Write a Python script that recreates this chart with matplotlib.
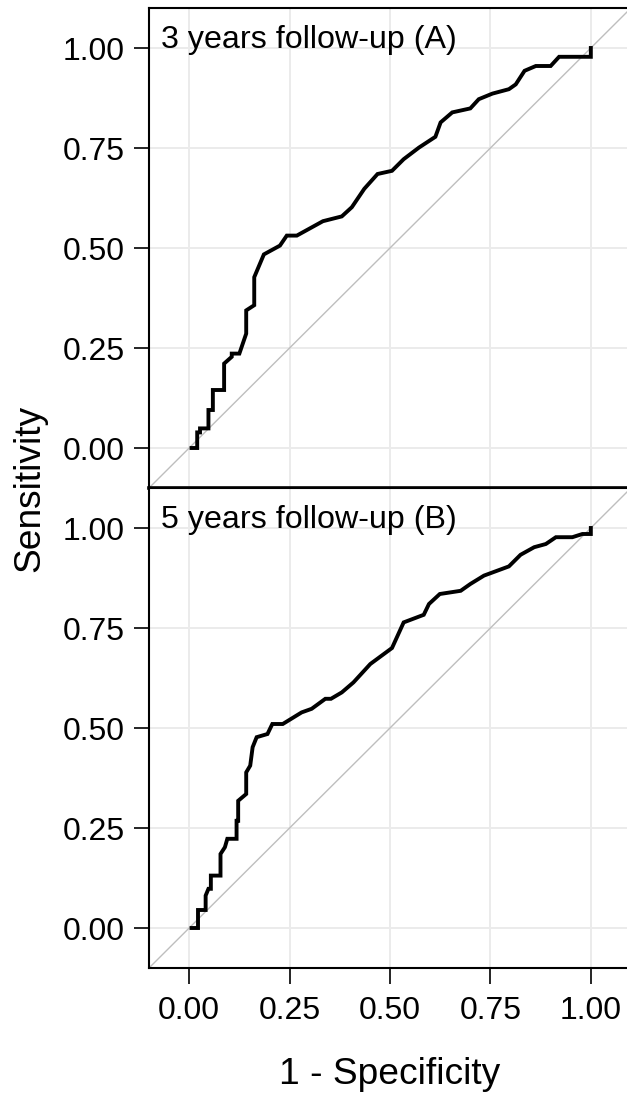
import matplotlib
matplotlib.use("Agg")
import matplotlib.pyplot as plt
import numpy as np

plt.rcParams['font.family'] = ['Liberation Sans', 'DejaVu Sans']

# ROC curve, 3 years follow-up (A)
fpr_3y = [0.006, 0.020, 0.020, 0.027, 0.027, 0.048, 0.048, 0.059, 0.059, 0.087,
          0.087, 0.106, 0.106, 0.125, 0.142, 0.142, 0.162, 0.162, 0.186, 0.226,
          0.243, 0.268, 0.333, 0.380, 0.405, 0.436, 0.469, 0.505, 0.534, 0.572,
          0.613, 0.626, 0.655, 0.700, 0.721, 0.755, 0.796, 0.813, 0.835, 0.863,
          0.900, 0.921, 1.000, 1.000]
tpr_3y = [0.000, 0.000, 0.039, 0.039, 0.049, 0.049, 0.095, 0.095, 0.145, 0.145,
          0.211, 0.228, 0.236, 0.236, 0.286, 0.344, 0.357, 0.427, 0.484, 0.506,
          0.531, 0.531, 0.567, 0.579, 0.602, 0.648, 0.685, 0.693, 0.722, 0.751,
          0.778, 0.814, 0.839, 0.849, 0.872, 0.886, 0.897, 0.909, 0.943, 0.955,
          0.955, 0.978, 0.978, 1.000]

# ROC curve, 5 years follow-up (B)
fpr_5y = [0.006, 0.022, 0.022, 0.041, 0.041, 0.048, 0.054, 0.054, 0.078, 0.078,
          0.089, 0.095, 0.118, 0.118, 0.122, 0.122, 0.142, 0.142, 0.152, 0.158,
          0.168, 0.195, 0.207, 0.233, 0.280, 0.305, 0.339, 0.353, 0.380, 0.409,
          0.451, 0.505, 0.534, 0.584, 0.597, 0.624, 0.676, 0.700, 0.734, 0.796,
          0.825, 0.859, 0.888, 0.913, 0.954, 0.979, 1.000, 1.000]
tpr_5y = [0.000, 0.000, 0.045, 0.045, 0.081, 0.098, 0.098, 0.131, 0.131, 0.185,
          0.202, 0.223, 0.223, 0.268, 0.268, 0.318, 0.335, 0.389, 0.406, 0.452,
          0.477, 0.485, 0.510, 0.510, 0.539, 0.548, 0.573, 0.573, 0.589, 0.614,
          0.660, 0.700, 0.764, 0.783, 0.810, 0.835, 0.843, 0.860, 0.881, 0.904,
          0.933, 0.952, 0.960, 0.977, 0.977, 0.985, 0.985, 1.000]

panel_titles = ["3 years follow-up (A)", "5 years follow-up (B)"]
ticks = [0.0, 0.25, 0.5, 0.75, 1.0]
tick_labels = ["0.00", "0.25", "0.50", "0.75", "1.00"]

fig = plt.figure(figsize=(6.27, 10.97), dpi=100)
W, H = 627.0, 1097.0
left, right = 149.0 / W, 631.0 / W
ax_top = fig.add_axes([left, 1 - 488.0 / H, right - left, 480.0 / H])
ax_bot = fig.add_axes([left, 1 - 968.0 / H, right - left, 480.0 / H])

for ax, fpr, tpr, title in [(ax_top, fpr_3y, tpr_3y, panel_titles[0]),
                            (ax_bot, fpr_5y, tpr_5y, panel_titles[1])]:
    ax.set_xlim(-0.1, 1.1)
    ax.set_ylim(-0.1, 1.1)
    ax.set_xticks(ticks)
    ax.set_yticks(ticks)
    ax.set_yticklabels(tick_labels)
    ax.grid(True, color="#EBEBEB", linewidth=1.4)
    ax.set_axisbelow(True)
    ax.plot([-0.1, 1.1], [-0.1, 1.1], color="#BEBEBE", linewidth=1.0, zorder=2)
    ax.plot(fpr, tpr, color="black", linewidth=2.8, solid_joinstyle="miter", zorder=3)
    ax.text(0.025, 0.917, title, transform=ax.transAxes, fontsize=23.2,
            ha="left", va="baseline")
    for s in ["left", "top", "bottom"]:
        ax.spines[s].set_linewidth(1.5)
        ax.spines[s].set_color("black")
    ax.spines["right"].set_visible(False)
    ax.tick_params(axis="y", labelsize=23, length=10.5, width=1.2, pad=7)

# the two panel borders meet here and look thicker
ax_top.spines["bottom"].set_linewidth(2.6)
ax_top.tick_params(axis="x", bottom=False, labelbottom=False)
ax_bot.set_xticklabels(tick_labels)
ax_bot.tick_params(axis="x", labelsize=23, length=11.5, width=1.2, pad=9)

fig.text(0.5 * (189.3 + 590) / W, 1 - 1074.0 / H, "1 - Specificity",
         fontsize=26.7, ha="center", va="center")
fig.text(30.0 / W, 1 - 488.0 / H, "Sensitivity", fontsize=26.7,
         ha="center", va="center", rotation=90)

fig.savefig("out.png", dpi=100)
